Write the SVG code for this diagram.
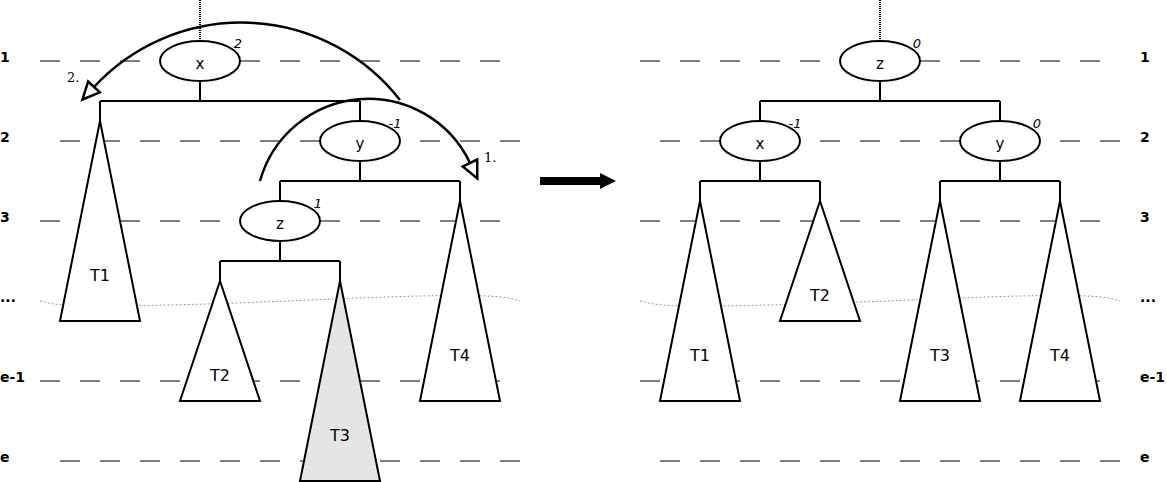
<svg xmlns="http://www.w3.org/2000/svg" width="1167" height="482" viewBox="0 0 1167 482">
<style>
.lvl{stroke:#808080;stroke-width:2;stroke-dasharray:20 20;fill:none}
.cut{stroke:#999;stroke-width:1;stroke-dasharray:2 2;fill:none}
.ln{stroke:#000;stroke-width:2;fill:none}
.nd{fill:#fff;stroke:#000;stroke-width:2}
.tri{fill:#fff;stroke:#000;stroke-width:2}
.dot{stroke:#000;stroke-width:2;stroke-dasharray:1 1;fill:none}
.t{font-family:"DejaVu Sans",sans-serif;font-size:15px;text-anchor:middle}
.tt{font-family:"DejaVu Sans",sans-serif;font-size:16px;text-anchor:middle}
.bal{font-family:"DejaVu Sans",sans-serif;font-size:13px;font-style:italic;text-anchor:middle}
.row{font-family:"DejaVu Sans",sans-serif;font-size:14px;font-weight:bold}
.num{font-family:"DejaVu Serif",serif;font-size:13px}
.arc{stroke:#000;stroke-width:2.5;fill:none}
</style>
<defs>
<marker id="open" markerUnits="userSpaceOnUse" viewBox="-3 -3 24 24" refX="1" refY="9" markerWidth="24" markerHeight="24" orient="auto">
<path d="M1,1 L18,9 L1,17 Z" fill="#fff" stroke="#000" stroke-width="2.5" stroke-linejoin="miter"/>
</marker>
</defs>
<g id="levels">
<line class="lvl" x1="40" y1="61" x2="500" y2="61"/>
<line class="lvl" x1="60" y1="141" x2="520" y2="141"/>
<line class="lvl" x1="40" y1="221" x2="500" y2="221"/>
<line class="lvl" x1="40" y1="381" x2="500" y2="381"/>
<line class="lvl" x1="60" y1="461" x2="520" y2="461"/>
<line class="lvl" x1="640" y1="61" x2="1100" y2="61"/>
<line class="lvl" x1="660" y1="141" x2="1120" y2="141"/>
<line class="lvl" x1="640" y1="221" x2="1100" y2="221"/>
<line class="lvl" x1="640" y1="381" x2="1100" y2="381"/>
<line class="lvl" x1="660" y1="461" x2="1120" y2="461"/>
<path class="cut" d="M40,301 C70,309 110,306 170,305 C260,303 340,298 420,296 C470,295 505,295 520,301"/>
<path class="cut" d="M640,301 C670,309 710,306 770,305 C860,303 940,298 1020,296 C1070,295 1105,295 1120,301"/>
<text class="row" x="0" y="62">1</text>
<text class="row" x="0" y="142">2</text>
<text class="row" x="0" y="222">3</text>
<text class="row" x="0" y="302">...</text>
<text class="row" x="0" y="382">e-1</text>
<text class="row" x="0" y="462">e</text>
<text class="row" x="1140" y="62">1</text>
<text class="row" x="1140" y="142">2</text>
<text class="row" x="1140" y="222">3</text>
<text class="row" x="1140" y="302">...</text>
<text class="row" x="1140" y="382">e-1</text>
<text class="row" x="1140" y="462">e</text>
</g>
<g id="connectors">
<line class="dot" x1="200" y1="0" x2="200" y2="41"/>
<path class="ln" d="M200,81 V101 M100,101 H360 M100,101 V121 M360,101 V121"/>
<path class="ln" d="M360,161 V181 M280,181 H460 M280,181 V201 M460,181 V201"/>
<path class="ln" d="M280,241 V261 M220,261 H340 M220,261 V281 M340,261 V281"/>
<line class="dot" x1="880" y1="0" x2="880" y2="41"/>
<path class="ln" d="M880,81 V101 M760,101 H1000 M760,101 V121 M1000,101 V121"/>
<path class="ln" d="M760,161 V181 M700,181 H820 M700,181 V201 M820,181 V201"/>
<path class="ln" d="M1000,161 V181 M940,181 H1060 M940,181 V201 M1060,181 V201"/>
</g>
<g id="left-T1"><polygon class="tri" points="100,121 140,321 60,321"/><text class="tt" x="100" y="281">T1</text></g>
<g id="left-T2"><polygon class="tri" points="220,281 260,401 180,401"/><text class="tt" x="220" y="381">T2</text></g>
<g id="left-T3"><polygon class="tri" points="340,281 380,481 300,481" style="fill:#e5e5e5"/><text class="tt" x="340" y="441">T3</text></g>
<g id="left-T4"><polygon class="tri" points="460,201 500,401 420,401"/><text class="tt" x="460" y="361">T4</text></g>
<g id="left-x"><ellipse class="nd" cx="200" cy="61" rx="40" ry="20"/><text class="t" x="200" y="69">x</text><text class="bal" x="238" y="48">2</text></g>
<g id="left-y"><ellipse class="nd" cx="360" cy="141" rx="40" ry="20"/><text class="t" x="360" y="149">y</text><text class="bal" x="395" y="128">-1</text></g>
<g id="left-z"><ellipse class="nd" cx="280" cy="221" rx="40" ry="20"/><text class="t" x="280" y="229">z</text><text class="bal" x="318" y="208">1</text></g>
<g id="rotations">
<path class="arc" d="M400,100 A201,201 0 0 0 94,87" marker-end="url(#open)"/>
<text class="num" x="67" y="82">2.</text>
<path class="arc" d="M260,181 A112.5,112.5 0 0 1 470,163" marker-end="url(#open)"/>
<text class="num" x="484" y="162">1.</text>
</g>
<g id="transform-arrow">
<rect x="540" y="177" width="61" height="8" fill="#000"/>
<polygon points="600,173 616,181 600,189" fill="#000"/>
</g>
<g id="right-T1"><polygon class="tri" points="700,201 740,401 660,401"/><text class="tt" x="700" y="361">T1</text></g>
<g id="right-T2"><polygon class="tri" points="820,201 860,321 780,321"/><text class="tt" x="820" y="301">T2</text></g>
<g id="right-T3"><polygon class="tri" points="940,201 980,401 900,401"/><text class="tt" x="940" y="361">T3</text></g>
<g id="right-T4"><polygon class="tri" points="1060,201 1100,401 1020,401"/><text class="tt" x="1060" y="361">T4</text></g>
<g id="right-z"><ellipse class="nd" cx="880" cy="61" rx="40" ry="20"/><text class="t" x="880" y="69">z</text><text class="bal" x="917" y="48">0</text></g>
<g id="right-x"><ellipse class="nd" cx="760" cy="141" rx="40" ry="20"/><text class="t" x="760" y="149">x</text><text class="bal" x="795" y="128">-1</text></g>
<g id="right-y"><ellipse class="nd" cx="1000" cy="141" rx="40" ry="20"/><text class="t" x="1000" y="149">y</text><text class="bal" x="1037" y="128">0</text></g>
</svg>
